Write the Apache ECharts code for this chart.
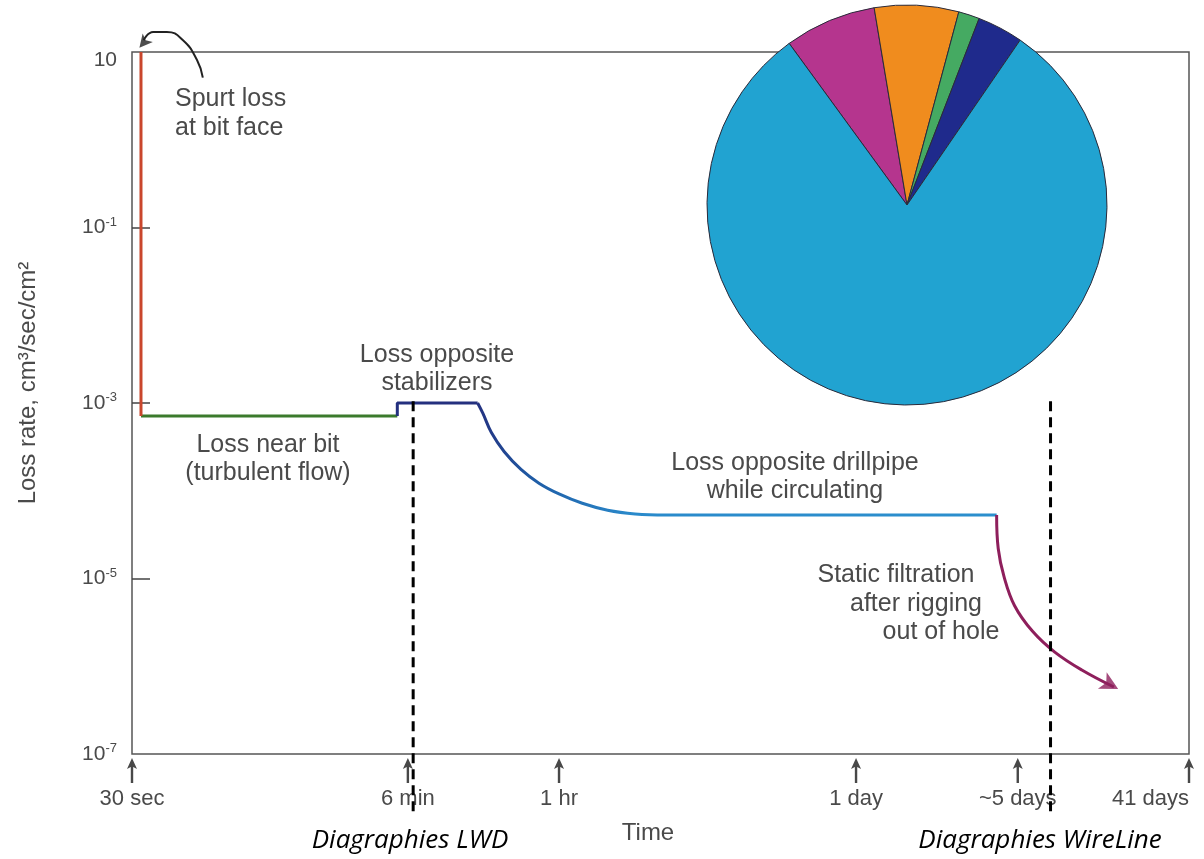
<!DOCTYPE html>
<html>
<head>
<meta charset="utf-8">
<script src="https://cdn.jsdelivr.net/npm/echarts@6/dist/echarts.min.js"></script>
<style>html,body{margin:0;padding:0;background:#fff}#c{width:1204px;height:859px}</style>
</head>
<body>
<div id="c"></div>
<script>
// ---- data (x in relative time-axis units 0..100, y in cm3/sec/cm2) ----
const timeTickPos    = [0, 26.1, 40.4, 68.5, 83.8, 100];
const timeTickLabels = ['30 sec', '6 min', '1 hr', '1 day', '~5 days', '41 days'];
const rateTickValues = [1e-7, 1e-5, 1e-3, 1e-1, 10];
const rateTickMarks  = [1e-5, 1e-3, 1e-1];

const spurtLoss   = [[0.85, 10], [0.85, 7.1e-4]];
const nearBit     = [[0.85, 7.1e-4], [25.1, 7.1e-4]];
const stabilizers = [[25.1, 7.1e-4], [25.1, 1e-3], [32.7, 1e-3]];
const drillpipe   = [[32.7, 1e-3], [33.2, 7.6e-4], [34.0, 4.6e-4], [35.2, 2.8e-4], [36.8, 1.75e-4],
                     [38.5, 1.22e-4], [40.4, 9.2e-5], [42.6, 7.2e-5], [45.0, 6.0e-5],
                     [47.6, 5.45e-5], [50.5, 5.3e-5], [66.0, 5.3e-5], [81.8, 5.3e-5]];
const staticFiltration = [[81.8, 5.3e-5], [81.95, 2.2e-5], [82.5, 1.05e-5], [83.5, 4.9e-6],
                          [85.2, 2.5e-6], [87.3, 1.45e-6], [89.9, 9.0e-7], [92.9, 5.8e-7]];
const staticArrowHead = [[93.3, 5.5e-7]];
const spurtPointer = [[6.7, 5.1], [6.15, 8.1], [4.8, 13.7], [3.3, 16.9], [2.0, 16.9], [1.1, 13.6]];
const spurtArrowHead = [[0.7, 11.2]];
const lwdLine      = [[26.6, 1.05e-3], [26.6, 2e-8]];
const wirelineLine = [[86.9, 1.05e-3], [86.9, 2e-8]];
const tickArrowY = 6.5e-8;

const pieNames  = ['Magenta', 'Orange', 'Green', 'Dark blue', 'Cyan'];
const pieValues = [7.4, 6.8, 1.7, 3.7, 80.4];
const pieColors = ['#b5358e', '#f08c1e', '#45aa62', '#1f2a8c', '#21a3d1'];

const textGray = '#4a4a4a';
const font = 'Liberation Sans';

function nearestLabel(v) {
  let best = 0;
  for (let i = 1; i < timeTickPos.length; i++) {
    if (Math.abs(timeTickPos[i] - v) < Math.abs(timeTickPos[best] - v)) best = i;
  }
  return timeTickLabels[best];
}

const chart = echarts.init(document.getElementById('c'));

function txt(text, x, y, opts) {
  return {
    type: 'text', z: 100,
    style: Object.assign({
      text: text, x: x, y: y, fill: textGray, fontFamily: font, fontSize: 25,
      textAlign: 'center', textVerticalAlign: 'middle'
    }, opts || {})
  };
}

const option = {
  backgroundColor: '#fff',
  animation: false,
  grid: { left: 132, right: 15, top: 52, bottom: 105, show: true,
          borderColor: '#555', borderWidth: 1.5, backgroundColor: 'transparent' },
  xAxis: {
    type: 'value', min: 0, max: 100,
    axisLine: { show: false }, axisTick: { show: false }, splitLine: { show: false },
    axisLabel: {
      customValues: timeTickPos,
      formatter: function (v) { return nearestLabel(v); },
      margin: 34, fontSize: 22, color: textGray, fontFamily: font,
      alignMaxLabel: 'right'
    }
  },
  yAxis: {
    type: 'log', logBase: 10, min: 1e-7, max: 10,
    axisLine: { show: false }, splitLine: { show: false },
    axisTick: { show: true, inside: true, length: 18, customValues: rateTickMarks,
                lineStyle: { color: '#444', width: 1.5 } },
    axisLabel: {
      customValues: rateTickValues,
      margin: 15,
      formatter: function (v) {
        const e = Math.round(Math.log10(v));
        if (e === 1) return '{t|10}';
        return '{b|10}{s|' + e + '}';
      },
      rich: {
        t: { fontSize: 21, color: textGray, fontFamily: font, lineHeight: 24, padding: [16, 0, 0, 0] },
        b: { fontSize: 21, color: textGray, fontFamily: font, lineHeight: 24 },
        s: { fontSize: 13, color: textGray, fontFamily: font, lineHeight: 24, verticalAlign: 'top' }
      }
    },
    name: 'Loss rate, cm³/sec/cm²',
    nameLocation: 'middle', nameRotate: 90, nameGap: 92,
    nameTextStyle: { fontSize: 24, color: textGray, fontFamily: font, padding: [0, 0, 0, 40] }
  },
  series: [
    { type: 'pie', center: [907, 205], radius: 200, startAngle: 126.1, clockwise: true,
      z: 1, label: { show: false }, labelLine: { show: false }, silent: true,
      itemStyle: { borderColor: '#2a2a3a', borderWidth: 1 },
      data: pieNames.map((n, i) => ({ name: n, value: pieValues[i], itemStyle: { color: pieColors[i] } })) },
    { type: 'line', data: nearBit, symbol: 'none', z: 3,
      lineStyle: { color: '#3b7a2c', width: 3 } },
    { type: 'line', data: spurtLoss, symbol: 'none', z: 4, clip: false,
      lineStyle: { color: '#c9462c', width: 3 } },
    { type: 'line', data: stabilizers, symbol: 'none', z: 3,
      lineStyle: { color: '#24307f', width: 3 } },
    { type: 'line', data: drillpipe, symbol: 'none', z: 3, smooth: 0.4,
      lineStyle: { width: 3, color: { type: 'linear', x: 0, y: 0, x2: 1, y2: 0,
        colorStops: [{ offset: 0, color: '#24307f' }, { offset: 0.12, color: '#1f5fa8' },
                     { offset: 0.3, color: '#2a8acb' }, { offset: 1, color: '#2b8fcd' }] } } },
    { type: 'line', data: staticFiltration, symbol: 'none', z: 3, smooth: 0.4,
      lineStyle: { color: '#8e1f5c', width: 3 } },
    { type: 'scatter', data: staticArrowHead, symbol: 'arrow', symbolSize: [14, 18],
      symbolRotate: -118, z: 4, itemStyle: { color: '#8e1f5c' } },
    { type: 'line', data: spurtPointer, symbol: 'none', z: 4, clip: false, smooth: 0.5,
      lineStyle: { color: '#222', width: 2 } },
    { type: 'scatter', data: spurtArrowHead, symbol: 'arrow', symbolSize: [10, 13],
      symbolRotate: 140, z: 4, clip: false, itemStyle: { color: '#222' } },
    { type: 'line', data: lwdLine, symbol: 'none', z: 6, clip: false,
      lineStyle: { color: '#000', width: 3, type: [10, 6] } },
    { type: 'line', data: wirelineLine, symbol: 'none', z: 6, clip: false,
      lineStyle: { color: '#000', width: 3, type: [10, 6] } },
    { type: 'scatter', data: timeTickPos.map(x => [x, tickArrowY]), clip: false, z: 5,
      symbol: 'path://M5,0 L10,11 L6.2,9 L6.2,25 L3.8,25 L3.8,9 L0,11 Z', symbolSize: [10, 25],
      itemStyle: { color: '#1a1a1a' } }
  ],
  graphic: [
    txt('Spurt loss', 175, 99, { textAlign: 'left' }),
    txt('at bit face', 175, 128, { textAlign: 'left' }),
    txt('Loss near bit', 268, 445),
    txt('(turbulent flow)', 268, 473),
    txt('Loss opposite', 437, 355),
    txt('stabilizers', 437, 383),
    txt('Loss opposite drillpipe', 795, 463),
    txt('while circulating', 795, 491),
    txt('Static filtration', 896, 575),
    txt('after rigging', 916, 604),
    txt('out of hole', 941, 632),
    txt('Time', 648, 833, { fontSize: 24 }),
    txt('Diagraphies LWD', 410, 841, { fill: '#000', fontFamily: 'Open Sans', fontStyle: 'italic', fontSize: 26 }),
    txt('Diagraphies WireLine', 1040, 841, { fill: '#000', fontFamily: 'Open Sans', fontStyle: 'italic', fontSize: 26 })
  ]
};
chart.setOption(option);
</script>
</body>
</html>
